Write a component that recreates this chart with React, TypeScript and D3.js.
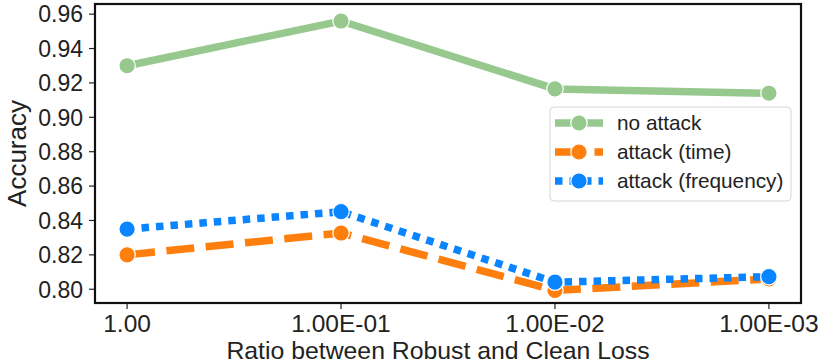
import React from 'react';
import * as d3 from 'd3';

// categories on the x axis (loss ratio)
const ratios = ['1.00', '1.00E-01', '1.00E-02', '1.00E-03'];

// accuracy per ratio
const noAttack = [0.930, 0.956, 0.9165, 0.914];
const attackTime = [0.820, 0.8327, 0.7993, 0.806];
const attackFreq = [0.835, 0.8451, 0.8041, 0.8073];

const yTicks = [0.80, 0.82, 0.84, 0.86, 0.88, 0.90, 0.92, 0.94, 0.96];

const series = [
  { name: 'no attack', values: noAttack, color: '#97c98f', dash: null },
  { name: 'attack (time)', values: attackTime, color: '#ff7f0e', dash: '28,11.5' },
  { name: 'attack (frequency)', values: attackFreq, color: '#0a84ff', dash: '7.5,7' },
];

const W = 830;
const H = 363;
const frame = { left: 95, right: 801, top: 4, bottom: 303 };
const font = '"Liberation Sans", Arial, sans-serif';
const textColor = '#222';

export default function App() {
  const x = d3.scalePoint<string>()
    .domain(ratios)
    .range([frame.left, frame.right])
    .padding(0.15);

  const y = d3.scaleLinear()
    .domain([0.792, 0.9659])
    .range([frame.bottom, frame.top]);

  const line = d3.line<number>()
    .x((_, i) => x(ratios[i]) as number)
    .y(d => y(d));

  const lw = 7.5;

  return (
    <svg width={W} height={H} style={{ position: 'absolute', left: 0, top: 0, background: '#fff' }} fontFamily={font}>
      {/* y axis ticks */}
      {yTicks.map(t => (
        <g key={t}>
          <line x1={frame.left - 6} x2={frame.left} y1={y(t)} y2={y(t)} stroke={textColor} strokeWidth={1.2} />
          <text x={frame.left - 12} y={y(t)} dy="0.36em" textAnchor="end" fontSize={23} fill={textColor}>
            {t.toFixed(2)}
          </text>
        </g>
      ))}

      {/* x axis ticks */}
      {ratios.map(r => (
        <g key={r}>
          <line x1={x(r)} x2={x(r)} y1={frame.bottom} y2={frame.bottom + 6} stroke={textColor} strokeWidth={1.2} />
          <text x={x(r)} y={331.5} textAnchor="middle" fontSize={24.5} fill={textColor}>{r}</text>
        </g>
      ))}

      <text x={438} y={358.5} textAnchor="middle" fontSize={24.8} fill={textColor}>
        Ratio between Robust and Clean Loss
      </text>
      <text transform={`translate(26, ${(frame.top + frame.bottom) / 2}) rotate(-90)`} textAnchor="middle" fontSize={26} fill={textColor}>
        Accuracy
      </text>

      {/* series */}
      {series.map(s => (
        <g key={s.name}>
          <path d={line(s.values) || ''} fill="none" stroke={s.color} strokeWidth={lw}
            strokeDasharray={s.dash || undefined} />
          {s.values.map((v, i) => (
            <circle key={i} cx={x(ratios[i])} cy={y(v)} r={8.2} fill={s.color} stroke="#fff" strokeWidth={1.2} />
          ))}
        </g>
      ))}

      {/* frame */}
      <rect x={frame.left} y={frame.top} width={frame.right - frame.left} height={frame.bottom - frame.top}
        fill="none" stroke="#111" strokeWidth={2.2} />

      {/* legend */}
      <g>
        <rect x={550} y={107} width={241} height={94} rx={4} fill="#fff" fillOpacity={0.8} stroke="#d6d6d6" strokeWidth={1} />
        {series.map((s, i) => {
          const cy = 123 + i * 29;
          return (
            <g key={s.name}>
              <line x1={555} x2={603} y1={cy} y2={cy} stroke={s.color} strokeWidth={lw}
                strokeDasharray={s.dash || undefined} />
              <circle cx={579} cy={cy} r={8.2} fill={s.color} stroke="#fff" strokeWidth={1.2} />
              <text x={617} y={cy} dy="0.36em" fontSize={20.8} fill={textColor}>{s.name}</text>
            </g>
          );
        })}
      </g>
    </svg>
  );
}
